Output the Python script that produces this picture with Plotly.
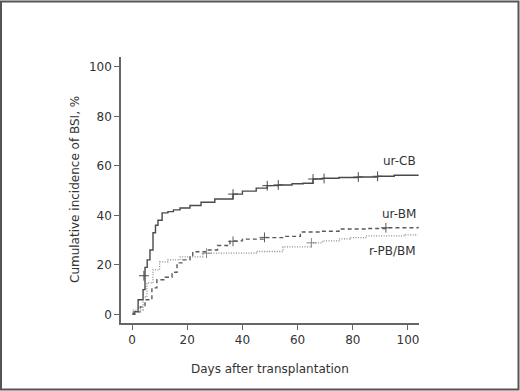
import plotly.graph_objects as go

# ur-CB (solid)
cb_days = [0, 1, 2.2, 4, 4.7, 5.5, 6.5, 7.6, 8.5, 9.4, 10.9, 13, 15, 17.4, 21, 25, 30, 36.6, 40, 45, 49, 53, 58, 62, 65.6, 69, 75, 82, 89, 95, 103.6]
cb_vals = [0, 1.1, 5.9, 10, 19, 22, 26, 33, 36, 38, 41, 41.5, 42.2, 43, 44, 45.3, 46.6, 48.6, 49.8, 51, 52, 52.3, 52.8, 53, 54.7, 55, 55.3, 55.5, 55.8, 56.2, 56.5]
cb_cens_days = [4.3, 36.6, 49, 53, 65.6, 69.6, 82, 89]
cb_cens_vals = [15.6, 48.6, 52, 52.3, 54.7, 54.9, 55.5, 55.8]

# ur-BM (dashed)
bm_days = [0, 0.5, 3, 4.7, 7.2, 9, 12, 14.5, 16.3, 18.5, 21, 22, 27, 31, 35.5, 40, 48, 55, 61, 68, 75, 85, 92, 103.6]
bm_vals = [0, 1, 3, 5.9, 10.7, 14, 15, 17, 20.8, 22, 23.8, 25.3, 26, 27.8, 29.7, 30.4, 31, 31.5, 33.3, 33.6, 34.5, 34.7, 35, 35.4]
bm_cens_days = [36.6, 48, 92]
bm_cens_vals = [29.5, 31.1, 35]

# r-PB/BM (dotted)
pb_days = [0, 0.5, 4, 5.4, 7.6, 10, 13, 17.4, 25.7, 45, 54.7, 65, 69, 75, 79, 85, 99, 103.6]
pb_vals = [0, 1.7, 7, 12.7, 18, 21.2, 22, 23.2, 24.7, 25.4, 27.3, 28.9, 29.7, 30.5, 31, 31.7, 32.1, 32.1]
pb_cens_days = [27, 65]
pb_cens_vals = [24.7, 28.9]

x_ticks = [0, 20, 40, 60, 80, 100]
y_ticks = [0, 20, 40, 60, 80, 100]
labels = ["ur-CB", "ur-BM", "r-PB/BM"]
label_y = [62, 40.6, 25.7]

FONT = "DejaVu Sans"
fig = go.Figure()

series = [
    (cb_days, cb_vals, cb_cens_days, cb_cens_vals, "solid", "#4a4a4a", 1.4),
    (bm_days, bm_vals, bm_cens_days, bm_cens_vals, "4px,3px", "#5a5a5a", 1.4),
    (pb_days, pb_vals, pb_cens_days, pb_cens_vals, "1px,1.5px", "#8a8a8a", 1.3),
]
for d, v, cd, cv, dash, col, w in series:
    fig.add_trace(go.Scatter(x=d, y=v, mode="lines", line=dict(shape="hv", dash=dash, color=col, width=w),
                             showlegend=False, hoverinfo="skip"))
    fig.add_trace(go.Scatter(x=cd, y=cv, mode="markers",
                             marker=dict(symbol="cross-thin", size=7, line=dict(color=col, width=1)),
                             showlegend=False, hoverinfo="skip"))

for t, yv in zip(labels, label_y):
    fig.add_annotation(x=103.6, y=yv, text=t, showarrow=False, xanchor="right", yanchor="middle",
                       font=dict(family=FONT, size=12, color="#333"))

fig.add_annotation(xref="paper", yref="paper", x=(270 - 121) / 298, y=(323 - 369) / 266,
                   text="Days after transplantation", showarrow=False, xanchor="center", yanchor="middle",
                   font=dict(family=FONT, size=12, color="#333"))
fig.add_annotation(xref="paper", yref="paper", x=(75 - 121) / 298, y=(323 - 190) / 266,
                   text="Cumulative incidence of BSI, %", showarrow=False, textangle=-90,
                   xanchor="center", yanchor="middle", font=dict(family=FONT, size=12, color="#333"))

# outer frame
fig.add_shape(type="rect", xref="paper", yref="paper",
              x0=(1 - 121) / 298, x1=(518.5 - 121) / 298,
              y0=(323 - 389.5) / 266, y1=(323 - 1.5) / 266,
              line=dict(color="#555", width=2), fillcolor="rgba(0,0,0,0)", layer="above")

axis_common = dict(showgrid=False, zeroline=False, showline=True, linecolor="#666", linewidth=1.5,
                   ticks="outside", ticklen=5, tickcolor="#666", tickwidth=1,
                   tickfont=dict(family=FONT, size=12, color="#333"))
fig.update_xaxes(range=[-4, 104], tickvals=x_ticks, **axis_common)
fig.update_yaxes(range=[-3.5, 104], tickvals=y_ticks, **axis_common)

fig.update_layout(width=520, height=391, margin=dict(l=121, r=101, t=57, b=68),
                  plot_bgcolor="white", paper_bgcolor="white", font=dict(family=FONT))
fig.write_html("out.html", config={"displayModeBar": False},
               post_script="document.body.style.margin='0';document.body.style.overflow='hidden';")
